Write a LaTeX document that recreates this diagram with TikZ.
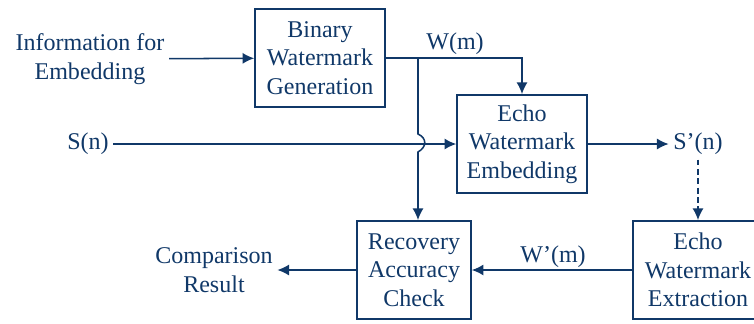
\documentclass[tikz,border=0pt]{standalone}
\usepackage{fontspec}
\setmainfont{Liberation Serif}
\usetikzlibrary{arrows.meta,positioning}
\definecolor{ink}{RGB}{16,56,104}

\begin{document}
\begin{tikzpicture}[x=0.03cm,y=-0.03cm,->,>={Latex[length=10pt,width=9.5pt]},line width=1.3pt,color=ink,
            every node/.style={font=\rmfamily\fontsize{20.5}{24.5}\selectfont,align=center,text=ink},
            blk/.style={draw,rectangle,minimum width=3.9cm,minimum height=2.95cm,inner sep=0pt}]
            \useasboundingbox (0,0) rectangle (754,323);
            \node(info) at (90,59){Information for\\Embedding};
            \node[blk](binary) at (320,58){Binary\\Watermark\\Generation};
            \node[blk](embed) at (522,144){Echo\\Watermark\\Embedding};
            \node(sn) at (88,144){S(n)};
            \node(snp) at (698,144){S’(n)};
            \node[blk](extract) at (698,270){Echo\\Watermark\\Extraction};
            \node[blk,minimum width=3.42cm](recovery) at (414,270){Recovery\\Accuracy\\Check};
            \node(result) at (214,270){Comparison\\Result};
            \node(wm) at (455,44){W(m)};
            \node(wpm) at (553,257){W’(m)};
            \coordinate(split) at (418,58);
            \coordinate(hopa) at (418,134);
            \coordinate(hopb) at (418,152);
            \draw (info) -- (binary);
            \draw (binary.east) -| (embed.north);
            \draw (split) -- (hopa) .. controls (427,138) and (427,147) .. (hopb) -- (split |- recovery.north);
            \draw (sn) -- (embed);
            \draw (embed) -- (snp);
            \draw[dash pattern=on 5pt off 3pt] (snp) -- (extract);
            \draw (extract) -- (recovery);
            \draw (recovery) -- (result);
        \end{tikzpicture}
\end{document}
